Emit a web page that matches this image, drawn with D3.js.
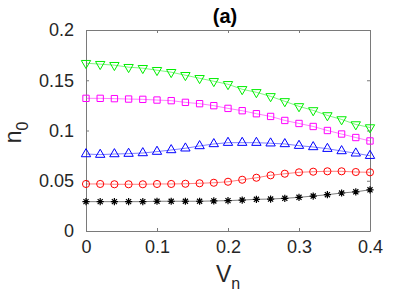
<!DOCTYPE html>
<html>
<head>
<meta charset="utf-8">
<script src="https://cdn.jsdelivr.net/npm/d3@7"></script>
<style>
  body { margin: 0; background: #fff; }
  svg { display: block; font-family: "Liberation Sans", Arial, sans-serif; }
</style>
</head>
<body>
<div id="chart"></div>
<script>
// x values shared by every series
const vn = [0, 0.02, 0.04, 0.06, 0.08, 0.10, 0.12, 0.14, 0.16, 0.18, 0.20,
            0.22, 0.24, 0.26, 0.28, 0.30, 0.32, 0.34, 0.36, 0.38, 0.40];

const greenVals = [0.167, 0.166, 0.165, 0.163, 0.162, 0.160, 0.158, 0.155, 0.152, 0.149, 0.146,
                   0.141, 0.138, 0.134, 0.129, 0.124, 0.120, 0.115, 0.111, 0.106, 0.103];
const magentaVals = [0.132, 0.132, 0.1317, 0.1313, 0.131, 0.1303, 0.1297, 0.128, 0.1267, 0.1247, 0.122,
                     0.1197, 0.1167, 0.114, 0.110, 0.107, 0.104, 0.100, 0.0965, 0.093, 0.0896];
const blueVals = [0.0766, 0.076, 0.0766, 0.077, 0.0776, 0.079, 0.0806, 0.0823, 0.0846, 0.0866, 0.0879,
                  0.0879, 0.0879, 0.0873, 0.0866, 0.0849, 0.0836, 0.0819, 0.0796, 0.0773, 0.0749];
const redVals = [0.0468, 0.0468, 0.0465, 0.0465, 0.0465, 0.0468, 0.0468, 0.047, 0.0475, 0.048, 0.049,
                 0.051, 0.053, 0.0554, 0.057, 0.0584, 0.059, 0.0594, 0.0594, 0.0587, 0.0584];
const blackVals = [0.0292, 0.0292, 0.0292, 0.0292, 0.0292, 0.0296, 0.0296, 0.0296, 0.0296, 0.0299, 0.0302,
                   0.0308, 0.0315, 0.0318, 0.0325, 0.0335, 0.0348, 0.0361, 0.0378, 0.0390, 0.0410];

const xTicks = [0, 0.1, 0.2, 0.3, 0.4];
const yTicks = [0, 0.05, 0.1, 0.15, 0.2];

const series = [
  { vals: greenVals, color: "#00ee00", marker: "triDown" },
  { vals: magentaVals, color: "#ff00ff", marker: "square" },
  { vals: blueVals, color: "#0000ff", marker: "triUp" },
  { vals: redVals, color: "#ff0000", marker: "circle" },
  { vals: blackVals, color: "#000000", marker: "star" },
];

const width = 409, height = 296;
const margin = { top: 30, right: 39, bottom: 65, left: 86 };

const svg = d3.select("#chart").append("svg")
  .attr("width", width)
  .attr("height", height);

const xScale = d3.scaleLinear().domain([0, 0.4]).range([margin.left, width - margin.right]);
const yScale = d3.scaleLinear().domain([0, 0.2]).range([height - margin.bottom, margin.top]);

const axisColor = "#7a7a7a";
const tickFmt = d => d === 0 ? "0" : String(d);

// bottom / left axes with inward ticks
const gx = svg.append("g")
  .attr("transform", "translate(0," + yScale(0) + ")")
  .call(d3.axisBottom(xScale).tickValues(xTicks).tickFormat(tickFmt).tickSizeInner(-3).tickSizeOuter(0).tickPadding(9));
const gy = svg.append("g")
  .attr("transform", "translate(" + xScale(0) + ",0)")
  .call(d3.axisLeft(yScale).tickValues(yTicks).tickFormat(tickFmt).tickSizeInner(-3).tickSizeOuter(0).tickPadding(12));
// top / right mirror ticks, no labels
const gt = svg.append("g")
  .attr("transform", "translate(0," + yScale(0.2) + ")")
  .call(d3.axisTop(xScale).tickValues(xTicks).tickFormat("").tickSizeInner(-3).tickSizeOuter(0));
const gr = svg.append("g")
  .attr("transform", "translate(" + xScale(0.4) + ",0)")
  .call(d3.axisRight(yScale).tickValues(yTicks).tickFormat("").tickSizeInner(-3).tickSizeOuter(0));

[gx, gy, gt, gr].forEach(g => {
  g.selectAll("path, line").attr("stroke", axisColor);
  g.selectAll("text").attr("fill", "#262626").style("font-size", "18px")
    .style("font-family", "'Liberation Sans', Arial, sans-serif");
});

// marker shapes
const sym = {
  circle: d3.symbol().type(d3.symbolCircle).size(40)(),
  square: d3.symbol().type(d3.symbolSquare).size(40)(),
  triUp: d3.symbol().type(d3.symbolTriangle).size(38)(),
};
const starPath = (() => {
  const r = 3.6, a = r * Math.SQRT1_2;
  return `M${-r},0L${r},0M0,${-r}L0,${r}M${-a},${-a}L${a},${a}M${-a},${a}L${a},${-a}`;
})();

const line = d3.line().x((d, i) => xScale(vn[i])).y(d => yScale(d));

series.forEach(s => {
  svg.append("path")
    .datum(s.vals)
    .attr("fill", "none")
    .attr("stroke", s.color)
    .attr("stroke-width", 0.6)
    .attr("stroke-opacity", 0.85)
    .attr("d", line);

  svg.selectAll(null)
    .data(s.vals)
    .enter().append("path")
    .attr("transform", (d, i) => {
      const t = "translate(" + xScale(vn[i]) + "," + yScale(d) + ")";
      if (s.marker === "triDown") return t + " rotate(180)";
      return t;
    })
    .attr("d", s.marker === "star" ? starPath : (s.marker === "triDown" ? sym.triUp : sym[s.marker]))
    .attr("fill", "none")
    .attr("stroke", s.color)
    .attr("stroke-width", s.marker === "star" ? 1.2 : 1);
});

// title
svg.append("text")
  .attr("x", (xScale(0) + xScale(0.4)) / 2 - 3)
  .attr("y", 23)
  .attr("text-anchor", "middle")
  .style("font-size", "20px")
  .style("font-weight", "bold")
  .attr("fill", "#000")
  .text("(a)");

// x label V_n
const xl = svg.append("text")
  .attr("x", (xScale(0) + xScale(0.4)) / 2)
  .attr("y", 282)
  .attr("text-anchor", "middle")
  .attr("fill", "#262626")
  .style("font-size", "23px");
xl.append("tspan").text("V");
xl.append("tspan").attr("dy", 7).style("font-size", "16px").text("n");

// y label n_0
const yl = svg.append("text")
  .attr("transform", "translate(21," + (yScale(0.1) + 2) + ") rotate(-90)")
  .attr("text-anchor", "middle")
  .attr("fill", "#262626")
  .style("font-size", "23px");
yl.append("tspan").text("n");
yl.append("tspan").attr("dy", 7).style("font-size", "16px").text("0");
</script>
</body>
</html>
